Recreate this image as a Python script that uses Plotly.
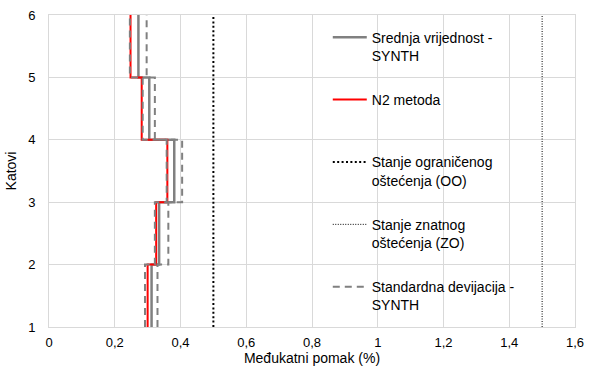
import plotly.graph_objects as go

# Storey levels (floor boundaries)
floors = [1, 2, 3, 4, 5, 6]
# Inter-storey drift (%) per storey 1..5
mean_synth = [0.312, 0.335, 0.381, 0.305, 0.272]
n2_method = [0.300, 0.326, 0.360, 0.282, 0.248]
std_low = [0.292, 0.322, 0.358, 0.285, 0.246]
std_high = [0.330, 0.363, 0.405, 0.322, 0.297]
limit_oo = 0.5
limit_zo = 1.5


def step(vals):
    xs, ys = [], []
    for i, v in enumerate(vals):
        xs += [v, v]
        ys += [floors[i], floors[i + 1]]
    return xs, ys


fig = go.Figure()
FONT = "Liberation Sans, Arial, sans-serif"

x, y = step(mean_synth)
fig.add_trace(go.Scatter(x=x, y=y, mode="lines", name="Srednja vrijednost -<br>SYNTH",
                         line=dict(color="#808080", width=2.5), legendgroup="a"))
x, y = step(n2_method)
fig.add_trace(go.Scatter(x=x, y=y, mode="lines", name="N2 metoda<br> ",
                         line=dict(color="#ff0000", width=2), legendgroup="b"))
fig.add_trace(go.Scatter(x=[limit_oo, limit_oo], y=[floors[0], floors[-1]], mode="lines",
                         name="Stanje ograničenog<br>oštećenja (OO)",
                         line=dict(color="#000000", width=2, dash="2px,2.4px"), legendgroup="c"))
fig.add_trace(go.Scatter(x=[limit_zo, limit_zo], y=[floors[0], floors[-1]], mode="lines",
                         name="Stanje znatnog<br>oštećenja (ZO)",
                         line=dict(color="#000000", width=1, dash="1px,1.5px"), legendgroup="d"))
x, y = step(std_low)
fig.add_trace(go.Scatter(x=x, y=y, mode="lines", name="Standardna devijacija -<br>SYNTH",
                         line=dict(color="#808080", width=2, dash="7px,5px"), legendgroup="e"))
x, y = step(std_high)
fig.add_trace(go.Scatter(x=x, y=y, mode="lines", name="Standardna devijacija -<br>SYNTH",
                         line=dict(color="#808080", width=2, dash="7px,5px"), legendgroup="e",
                         showlegend=False))

fig.update_layout(
    width=592, height=376,
    margin=dict(l=49, r=17, t=15, b=49),
    paper_bgcolor="white", plot_bgcolor="white",
    separators=", ",
    font=dict(family=FONT, size=12, color="#262626"),
    showlegend=True,
    legend=dict(x=0.53, xanchor="left", y=0.979, yanchor="top",
                bgcolor="rgba(0,0,0,0)", font=dict(size=14, color="#000000"),
                tracegroupgap=23, valign="top", traceorder="grouped", itemwidth=34),
    xaxis=dict(range=[0, 1.6], dtick=0.2, tick0=0, showgrid=True, gridcolor="#d9d9d9",
               gridwidth=1, zeroline=False, showline=True, linecolor="#d9d9d9", mirror=True,
               ticks="", automargin=False, ticklabelstandoff=3,
               title=dict(text="Međukatni pomak (%)", standoff=3,
                          font=dict(size=14, color="#000000")),
               tickfont=dict(size=13, color="#000000")),
    yaxis=dict(range=[1, 6], dtick=1, showgrid=True, gridcolor="#d9d9d9", gridwidth=1,
               zeroline=False, showline=True, linecolor="#d9d9d9", mirror=True, ticks="",
               automargin=False, ticklabelstandoff=10,
               title=dict(text="Katovi", standoff=8, font=dict(size=14, color="#000000")),
               tickfont=dict(size=13, color="#000000")),
)

fig.write_html("out.html", config={"displayModeBar": False},
               post_script="document.body.style.margin='0';document.body.style.overflow='hidden';")
